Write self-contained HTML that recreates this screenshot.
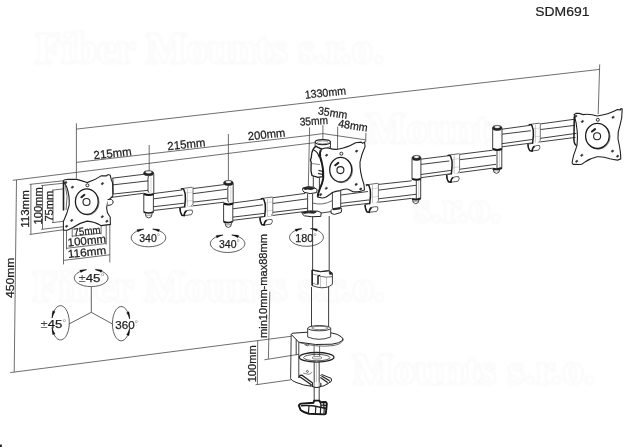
<!DOCTYPE html>
<html><head><meta charset="utf-8"><title>SDM691</title>
<style>
html,body{margin:0;padding:0;background:#fff;}
body{width:626px;height:447px;overflow:hidden;font-family:"Liberation Sans",sans-serif;}
svg{display:block;font-family:"Liberation Sans",sans-serif;}
</style></head><body>
<svg width="626" height="447" viewBox="0 0 626 447">
<rect width="626" height="447" fill="#ffffff"/>
<g filter="url(#wmblur)">
<text x="35" y="62.5" font-size="44" font-family="Liberation Serif" font-weight="bold" fill="#ffffff" stroke="#f1f1f1" stroke-width="1.5" paint-order="stroke" textLength="349" lengthAdjust="spacingAndGlyphs">Fiber Mounts s.r.o.</text>
<text x="366" y="143" font-size="44" font-family="Liberation Serif" font-weight="bold" fill="#ffffff" stroke="#f1f1f1" stroke-width="1.5" paint-order="stroke" textLength="140" lengthAdjust="spacingAndGlyphs">Mounts</text>
<text x="414" y="222" font-size="44" font-family="Liberation Serif" font-weight="bold" fill="#ffffff" stroke="#f1f1f1" stroke-width="1.5" paint-order="stroke">s.r.o.</text>
<text x="32" y="301" font-size="44" font-family="Liberation Serif" font-weight="bold" fill="#ffffff" stroke="#f1f1f1" stroke-width="1.5" paint-order="stroke" textLength="353" lengthAdjust="spacingAndGlyphs">Fiber Mounts s.r.o.</text>
<text x="352" y="384" font-size="44" font-family="Liberation Serif" font-weight="bold" fill="#ffffff" stroke="#f1f1f1" stroke-width="1.5" paint-order="stroke" textLength="243" lengthAdjust="spacingAndGlyphs">Mounts s.r.o.</text>
</g>
<g filter="url(#soft)">
<text x="535.2" y="16.2" font-size="13.6" fill="#1e1e1e" stroke="#1e1e1e" stroke-width="0.2" textLength="54.3" lengthAdjust="spacingAndGlyphs">SDM691</text>
<line x1="76.4" y1="129.1" x2="599.6" y2="69.4" stroke="#4a4a4a" stroke-width="0.8"/>
<line x1="76.4" y1="123.3" x2="76.4" y2="178.5" stroke="#4a4a4a" stroke-width="0.8"/>
<line x1="599.7" y1="64.4" x2="598.2" y2="114.2" stroke="#4a4a4a" stroke-width="0.8"/>
<line x1="76.4" y1="162.4" x2="309.3" y2="135.4" stroke="#4a4a4a" stroke-width="0.8"/>
<line x1="149.2" y1="145.0" x2="149.2" y2="172.0" stroke="#4a4a4a" stroke-width="0.8"/>
<line x1="228.4" y1="134.0" x2="228.4" y2="180.0" stroke="#4a4a4a" stroke-width="0.8"/>
<line x1="12.8" y1="180.3" x2="314.3" y2="142.7" stroke="#4a4a4a" stroke-width="0.8"/>
<line x1="16.5" y1="180.0" x2="14.2" y2="372.2" stroke="#4a4a4a" stroke-width="0.8"/>
<line x1="10.2" y1="372.6" x2="291.0" y2="336.3" stroke="#4a4a4a" stroke-width="0.8"/>
<line x1="30.9" y1="184.2" x2="30.9" y2="234.3" stroke="#4a4a4a" stroke-width="0.8"/>
<line x1="42.5" y1="185.4" x2="42.5" y2="229.3" stroke="#4a4a4a" stroke-width="0.8"/>
<line x1="53.0" y1="190.0" x2="53.0" y2="222.6" stroke="#4a4a4a" stroke-width="0.8"/>
<line x1="29.6" y1="184.4" x2="64.0" y2="180.7" stroke="#4a4a4a" stroke-width="0.8"/>
<line x1="41.2" y1="185.6" x2="64.0" y2="183.2" stroke="#4a4a4a" stroke-width="0.8"/>
<line x1="52.0" y1="190.2" x2="64.0" y2="188.8" stroke="#4a4a4a" stroke-width="0.8"/>
<line x1="29.6" y1="234.5" x2="66.5" y2="229.3" stroke="#4a4a4a" stroke-width="0.8"/>
<line x1="41.2" y1="229.4" x2="64.0" y2="226.6" stroke="#4a4a4a" stroke-width="0.8"/>
<line x1="52.0" y1="222.7" x2="72.2" y2="220.2" stroke="#4a4a4a" stroke-width="0.8"/>
<line x1="63.5" y1="230.4" x2="63.5" y2="264.4" stroke="#4a4a4a" stroke-width="0.8"/>
<line x1="66.5" y1="226.6" x2="66.5" y2="249.5" stroke="#4a4a4a" stroke-width="0.8"/>
<line x1="72.2" y1="220.0" x2="72.2" y2="237.2" stroke="#4a4a4a" stroke-width="0.8"/>
<line x1="101.1" y1="216.6" x2="101.1" y2="234.3" stroke="#4a4a4a" stroke-width="0.8"/>
<line x1="106.2" y1="220.4" x2="106.2" y2="244.5" stroke="#4a4a4a" stroke-width="0.8"/>
<line x1="109.8" y1="224.3" x2="109.8" y2="262.5" stroke="#4a4a4a" stroke-width="0.8"/>
<line x1="72.2" y1="236.2" x2="101.1" y2="233.2" stroke="#4a4a4a" stroke-width="0.8"/>
<line x1="66.5" y1="248.3" x2="106.2" y2="243.5" stroke="#4a4a4a" stroke-width="0.8"/>
<line x1="63.5" y1="260.4" x2="109.8" y2="254.8" stroke="#4a4a4a" stroke-width="0.8"/>
<line x1="309.6" y1="127.4" x2="308.3" y2="188.0" stroke="#4a4a4a" stroke-width="0.8"/>
<line x1="322.9" y1="125.1" x2="322.9" y2="139.5" stroke="#4a4a4a" stroke-width="0.8"/>
<line x1="337.7" y1="126.6" x2="337.5" y2="149.0" stroke="#4a4a4a" stroke-width="0.8"/>
<line x1="365.9" y1="132.9" x2="365.7" y2="142.3" stroke="#4a4a4a" stroke-width="0.8"/>
<line x1="309.3" y1="135.4" x2="322.9" y2="133.6" stroke="#4a4a4a" stroke-width="0.8"/>
<line x1="322.9" y1="133.6" x2="365.9" y2="139.9" stroke="#4a4a4a" stroke-width="0.8"/>
<line x1="269.8" y1="291.6" x2="268.4" y2="358.8" stroke="#4a4a4a" stroke-width="0.8"/>
<line x1="264.3" y1="359.8" x2="298.8" y2="354.3" stroke="#4a4a4a" stroke-width="0.8"/>
<line x1="257.7" y1="340.7" x2="257.4" y2="384.5" stroke="#4a4a4a" stroke-width="0.8"/>
<line x1="255.5" y1="384.8" x2="291.0" y2="379.8" stroke="#4a4a4a" stroke-width="0.8"/>
<text x="325.4" y="92.6" font-size="11.3" fill="#1e1e1e" stroke="#1e1e1e" stroke-width="0.25" font-weight="normal" text-anchor="middle" dominant-baseline="central" transform="rotate(-6 325.4 92.6)" textLength="41.5" lengthAdjust="spacingAndGlyphs">1330mm</text>
<text x="112.5" y="152.8" font-size="11.6" fill="#1e1e1e" stroke="#1e1e1e" stroke-width="0.25" font-weight="normal" text-anchor="middle" dominant-baseline="central" transform="rotate(-6 112.5 152.8)" textLength="38.0" lengthAdjust="spacingAndGlyphs">215mm</text>
<text x="186.3" y="143.7" font-size="11.6" fill="#1e1e1e" stroke="#1e1e1e" stroke-width="0.25" font-weight="normal" text-anchor="middle" dominant-baseline="central" transform="rotate(-6 186.3 143.7)" textLength="38.0" lengthAdjust="spacingAndGlyphs">215mm</text>
<text x="266.5" y="133.9" font-size="11.6" fill="#1e1e1e" stroke="#1e1e1e" stroke-width="0.25" font-weight="normal" text-anchor="middle" dominant-baseline="central" transform="rotate(-6 266.5 133.9)" textLength="37.5" lengthAdjust="spacingAndGlyphs">200mm</text>
<text x="313.8" y="120.9" font-size="11.3" fill="#1e1e1e" stroke="#1e1e1e" stroke-width="0.25" font-weight="normal" text-anchor="middle" dominant-baseline="central" transform="rotate(-4 313.8 120.9)" textLength="28.4" lengthAdjust="spacingAndGlyphs">35mm</text>
<text x="332.7" y="112.7" font-size="11.3" fill="#1e1e1e" stroke="#1e1e1e" stroke-width="0.25" font-weight="normal" text-anchor="middle" dominant-baseline="central" transform="rotate(9 332.7 112.7)" textLength="29.5" lengthAdjust="spacingAndGlyphs">35mm</text>
<text x="353.0" y="125.4" font-size="11.3" fill="#1e1e1e" stroke="#1e1e1e" stroke-width="0.25" font-weight="normal" text-anchor="middle" dominant-baseline="central" transform="rotate(9 353.0 125.4)" textLength="29.8" lengthAdjust="spacingAndGlyphs">48mm</text>
<text x="9.7" y="277.8" font-size="11.8" fill="#1e1e1e" stroke="#1e1e1e" stroke-width="0.25" font-weight="normal" text-anchor="middle" dominant-baseline="central" transform="rotate(-90 9.7 277.8)" textLength="40.5" lengthAdjust="spacingAndGlyphs">450mm</text>
<text x="24.9" y="209.0" font-size="11.4" fill="#1e1e1e" stroke="#1e1e1e" stroke-width="0.25" font-weight="normal" text-anchor="middle" dominant-baseline="central" transform="rotate(-90 24.9 209.0)" textLength="37.6" lengthAdjust="spacingAndGlyphs">113mm</text>
<text x="37.8" y="205.9" font-size="11.4" fill="#1e1e1e" stroke="#1e1e1e" stroke-width="0.25" font-weight="normal" text-anchor="middle" dominant-baseline="central" transform="rotate(-90 37.8 205.9)" textLength="37.2" lengthAdjust="spacingAndGlyphs">100mm</text>
<text x="48.6" y="206.1" font-size="11.4" fill="#1e1e1e" stroke="#1e1e1e" stroke-width="0.25" font-weight="normal" text-anchor="middle" dominant-baseline="central" transform="rotate(-90 48.6 206.1)" textLength="31.0" lengthAdjust="spacingAndGlyphs">75mm</text>
<text x="87.0" y="230.8" font-size="11" fill="#1e1e1e" stroke="#1e1e1e" stroke-width="0.25" font-weight="normal" text-anchor="middle" dominant-baseline="central" transform="rotate(-6 87.0 230.8)" textLength="27.0" lengthAdjust="spacingAndGlyphs">75mm</text>
<text x="86.8" y="240.5" font-size="11.3" fill="#1e1e1e" stroke="#1e1e1e" stroke-width="0.25" font-weight="normal" text-anchor="middle" dominant-baseline="central" transform="rotate(-6 86.8 240.5)" textLength="38.5" lengthAdjust="spacingAndGlyphs">100mm</text>
<text x="87.0" y="252.0" font-size="11.3" fill="#1e1e1e" stroke="#1e1e1e" stroke-width="0.25" font-weight="normal" text-anchor="middle" dominant-baseline="central" transform="rotate(-6 87.0 252.0)" textLength="38.5" lengthAdjust="spacingAndGlyphs">116mm</text>
<text x="263.2" y="286.0" font-size="10.7" fill="#1e1e1e" stroke="#1e1e1e" stroke-width="0.25" font-weight="normal" text-anchor="middle" dominant-baseline="central" transform="rotate(-90 263.2 286.0)" textLength="104.0" lengthAdjust="spacingAndGlyphs">min10mm-max88mm</text>
<text x="251.6" y="363.8" font-size="10.8" fill="#1e1e1e" stroke="#1e1e1e" stroke-width="0.25" font-weight="normal" text-anchor="middle" dominant-baseline="central" transform="rotate(-90 251.6 363.8)" textLength="37.0" lengthAdjust="spacingAndGlyphs">100mm</text>
<path d="M95.29 269.66 A16.90 8.60 0 1 1 86.54 269.73" stroke="#3a3a3a" stroke-width="0.8" fill="none" />
<path d="M79.85 270.26 L80.91 270.07 L81.99 269.91 L83.10 269.80 L84.23 269.74 L85.38 269.71 L86.54 269.73 L86.54 269.73 L85.46 270.12 L84.42 270.55 L83.43 271.01 L82.50 271.50 L81.63 272.02 L80.83 272.56Z" stroke="#111" stroke-width="0.3" fill="#111" />
<path d="M102.07 270.06 L100.99 269.89 L99.88 269.75 L98.76 269.66 L97.61 269.62 L96.46 269.62 L95.29 269.66 L95.29 269.66 L96.39 270.03 L97.45 270.43 L98.46 270.88 L99.42 271.35 L100.31 271.86 L101.14 272.38Z" stroke="#111" stroke-width="0.3" fill="#111" />
<text x="91.6" y="278.4" font-size="11.4" fill="#1e1e1e" stroke="#1e1e1e" stroke-width="0.25" font-weight="normal" text-anchor="middle" dominant-baseline="central" transform="rotate(0 91.6 278.4)" textLength="26.2" lengthAdjust="spacingAndGlyphs"><tspan fill="#444" stroke="none">±</tspan>45<tspan fill="#8a8a8a" stroke="none" font-size="9" dy="-1">°</tspan></text>
<path d="M152.69 229.07 A17.30 9.00 0 1 1 143.73 229.15" stroke="#3a3a3a" stroke-width="0.8" fill="none" />
<path d="M136.88 229.76 L137.96 229.54 L139.07 229.38 L140.21 229.25 L141.37 229.17 L142.54 229.14 L143.73 229.15 L143.73 229.15 L142.62 229.55 L141.56 229.98 L140.54 230.46 L139.59 230.96 L138.70 231.49 L137.88 232.05Z" stroke="#111" stroke-width="0.3" fill="#111" />
<path d="M159.62 229.55 L158.52 229.36 L157.39 229.21 L156.24 229.11 L155.07 229.05 L153.88 229.04 L152.69 229.07 L152.69 229.07 L153.81 229.45 L154.89 229.86 L155.93 230.32 L156.91 230.80 L157.83 231.32 L158.68 231.87Z" stroke="#111" stroke-width="0.3" fill="#111" />
<text x="149.7" y="238.2" font-size="11.4" fill="#1e1e1e" stroke="#1e1e1e" stroke-width="0.25" font-weight="normal" text-anchor="middle" dominant-baseline="central" transform="rotate(0 149.7 238.2)" textLength="20.8" lengthAdjust="spacingAndGlyphs">340<tspan fill="#8a8a8a" stroke="none" font-size="9" dy="-1">°</tspan></text>
<path d="M231.79 234.96 A17.30 8.90 0 1 1 222.83 235.04" stroke="#3a3a3a" stroke-width="0.8" fill="none" />
<path d="M215.98 235.63 L217.07 235.42 L218.18 235.26 L219.31 235.14 L220.47 235.06 L221.64 235.03 L222.83 235.04 L222.83 235.04 L221.72 235.44 L220.66 235.88 L219.64 236.34 L218.69 236.85 L217.80 237.38 L216.98 237.93Z" stroke="#111" stroke-width="0.3" fill="#111" />
<path d="M238.72 235.43 L237.62 235.24 L236.49 235.09 L235.34 234.99 L234.17 234.94 L232.98 234.93 L231.79 234.96 L231.79 234.96 L232.91 235.34 L234.00 235.76 L235.03 236.21 L236.01 236.69 L236.93 237.21 L237.78 237.75Z" stroke="#111" stroke-width="0.3" fill="#111" />
<text x="229.4" y="244.1" font-size="11.4" fill="#1e1e1e" stroke="#1e1e1e" stroke-width="0.25" font-weight="normal" text-anchor="middle" dominant-baseline="central" transform="rotate(0 229.4 244.1)" textLength="20.8" lengthAdjust="spacingAndGlyphs">340<tspan fill="#8a8a8a" stroke="none" font-size="9" dy="-1">°</tspan></text>
<path d="M310.61 228.57 A17.00 9.00 0 1 1 301.81 228.65" stroke="#3a3a3a" stroke-width="0.8" fill="none" />
<path d="M295.07 229.26 L296.13 229.05 L297.23 228.88 L298.35 228.75 L299.49 228.67 L300.65 228.64 L301.81 228.65 L301.81 228.65 L300.73 229.05 L299.68 229.48 L298.69 229.96 L297.75 230.46 L296.88 230.99 L296.08 231.55Z" stroke="#111" stroke-width="0.3" fill="#111" />
<path d="M317.44 229.05 L316.36 228.86 L315.24 228.71 L314.11 228.61 L312.96 228.55 L311.79 228.54 L310.61 228.57 L310.61 228.57 L311.72 228.95 L312.78 229.36 L313.80 229.82 L314.76 230.30 L315.66 230.82 L316.49 231.36Z" stroke="#111" stroke-width="0.3" fill="#111" />
<text x="306.2" y="238.0" font-size="10.6" fill="#1e1e1e" stroke="#1e1e1e" stroke-width="0.25" font-weight="normal" text-anchor="middle" dominant-baseline="central" transform="rotate(0 306.2 238.0)" textLength="21.7" lengthAdjust="spacingAndGlyphs">180<tspan fill="#8a8a8a" stroke="none" font-size="9" dy="-1">°</tspan></text>
<path d="M52.04 318.06 A8.80 17.20 0 1 1 52.04 327.54" stroke="#3a3a3a" stroke-width="0.8" fill="none" />
<path d="M52.83 334.83 L52.57 333.69 L52.36 332.52 L52.20 331.31 L52.10 330.07 L52.04 328.82 L52.04 327.54 L52.04 327.54 L52.45 328.74 L52.91 329.88 L53.40 330.97 L53.94 331.99 L54.50 332.93 L55.10 333.79Z" stroke="#111" stroke-width="0.3" fill="#111" />
<path d="M52.83 310.77 L52.57 311.91 L52.36 313.08 L52.20 314.29 L52.10 315.53 L52.04 316.78 L52.04 318.06 L52.04 318.06 L52.45 316.86 L52.91 315.72 L53.40 314.63 L53.94 313.61 L54.50 312.67 L55.10 311.81Z" stroke="#111" stroke-width="0.3" fill="#111" />
<text x="53.5" y="323.6" font-size="11.4" fill="#1e1e1e" stroke="#1e1e1e" stroke-width="0.25" font-weight="normal" text-anchor="middle" dominant-baseline="central" transform="rotate(0 53.5 323.6)" textLength="26.0" lengthAdjust="spacingAndGlyphs"><tspan fill="#444" stroke="none">±</tspan>45<tspan fill="#8a8a8a" stroke="none" font-size="9" dy="-1">°</tspan></text>
<path d="M129.66 328.44 A8.80 17.20 0 1 1 129.66 318.96" stroke="#3a3a3a" stroke-width="0.8" fill="none" />
<path d="M128.87 311.67 L129.13 312.81 L129.34 313.98 L129.50 315.19 L129.60 316.43 L129.66 317.68 L129.66 318.96 L129.66 318.96 L129.25 317.76 L128.79 316.62 L128.30 315.53 L127.76 314.51 L127.20 313.57 L126.60 312.71Z" stroke="#111" stroke-width="0.3" fill="#111" />
<path d="M128.87 335.73 L129.13 334.59 L129.34 333.42 L129.50 332.21 L129.60 330.97 L129.66 329.72 L129.66 328.44 L129.66 328.44 L129.25 329.64 L128.79 330.78 L128.30 331.87 L127.76 332.89 L127.20 333.83 L126.60 334.69Z" stroke="#111" stroke-width="0.3" fill="#111" />
<text x="126.8" y="324.6" font-size="11.4" fill="#1e1e1e" stroke="#1e1e1e" stroke-width="0.25" font-weight="normal" text-anchor="middle" dominant-baseline="central" transform="rotate(0 126.8 324.6)" textLength="23.0" lengthAdjust="spacingAndGlyphs">360<tspan fill="#8a8a8a" stroke="none" font-size="9" dy="-1">°</tspan></text>
<line x1="91.3" y1="286.8" x2="91.3" y2="312.3" stroke="#3a3a3a" stroke-width="0.8"/>
<line x1="91.3" y1="312.3" x2="69.3" y2="323.8" stroke="#3a3a3a" stroke-width="0.8"/>
<line x1="91.3" y1="312.3" x2="112.6" y2="324.1" stroke="#3a3a3a" stroke-width="0.8"/>
<line x1="112.1" y1="178.2" x2="144.7" y2="174.2" stroke="#2a2a2a" stroke-width="0.9"/>
<line x1="112.8" y1="184.9" x2="148.6" y2="180.8" stroke="#2a2a2a" stroke-width="0.9"/>
<line x1="113.4" y1="194.0" x2="149.2" y2="190.2" stroke="#2a2a2a" stroke-width="0.9"/>
<line x1="105.0" y1="198.2" x2="144.1" y2="193.2" stroke="#2a2a2a" stroke-width="0.9"/>
<line x1="112.9" y1="178.2" x2="113.3" y2="194.0" stroke="#2a2a2a" stroke-width="0.9"/>
<line x1="153.2" y1="193.6" x2="224.1" y2="184.6" stroke="#2a2a2a" stroke-width="0.9"/>
<line x1="153.2" y1="198.9" x2="227.3" y2="189.2" stroke="#2a2a2a" stroke-width="0.9"/>
<line x1="153.2" y1="206.8" x2="227.3" y2="198.1" stroke="#2a2a2a" stroke-width="0.9"/>
<line x1="153.2" y1="210.5" x2="224.1" y2="202.2" stroke="#2a2a2a" stroke-width="0.9"/>
<line x1="233.0" y1="203.0" x2="305.3" y2="193.4" stroke="#2a2a2a" stroke-width="0.9"/>
<line x1="233.0" y1="208.8" x2="307.6" y2="198.8" stroke="#2a2a2a" stroke-width="0.9"/>
<line x1="233.0" y1="217.1" x2="307.6" y2="208.2" stroke="#2a2a2a" stroke-width="0.9"/>
<line x1="233.0" y1="220.3" x2="302.5" y2="211.8" stroke="#2a2a2a" stroke-width="0.9"/>
<line x1="365.8" y1="185.8" x2="411.7" y2="180.8" stroke="#2a2a2a" stroke-width="0.9"/>
<line x1="340.9" y1="195.0" x2="416.0" y2="185.3" stroke="#2a2a2a" stroke-width="0.9"/>
<line x1="340.9" y1="203.3" x2="416.0" y2="194.3" stroke="#2a2a2a" stroke-width="0.9"/>
<line x1="340.9" y1="206.5" x2="411.7" y2="198.4" stroke="#2a2a2a" stroke-width="0.9"/>
<line x1="420.9" y1="159.2" x2="492.7" y2="150.2" stroke="#2a2a2a" stroke-width="0.9"/>
<line x1="420.9" y1="164.4" x2="496.0" y2="155.3" stroke="#2a2a2a" stroke-width="0.9"/>
<line x1="420.9" y1="174.5" x2="496.0" y2="164.3" stroke="#2a2a2a" stroke-width="0.9"/>
<line x1="420.9" y1="177.7" x2="492.7" y2="168.2" stroke="#2a2a2a" stroke-width="0.9"/>
<line x1="502.0" y1="129.2" x2="574.0" y2="119.3" stroke="#2a2a2a" stroke-width="0.9"/>
<line x1="502.0" y1="134.2" x2="574.5" y2="125.4" stroke="#2a2a2a" stroke-width="0.9"/>
<line x1="502.0" y1="143.7" x2="576.5" y2="133.3" stroke="#2a2a2a" stroke-width="0.9"/>
<line x1="502.0" y1="146.8" x2="575.5" y2="137.4" stroke="#2a2a2a" stroke-width="0.9"/>
<path d="M148.0 173.2 L153.8 173.2 L153.8 194.0 L148.0 194.0Z" stroke="none" stroke-width="0" fill="#fff" />
<path d="M143.8 194.0 L153.5 194.0 L153.5 212.4 L143.8 212.4Z" stroke="none" stroke-width="0" fill="#fff" />
<line x1="153.8" y1="173.7" x2="153.8" y2="194.0" stroke="#2a2a2a" stroke-width="0.9"/>
<path d="M149.2 175.8 Q147.8 176.4 148.0 178.2 L148.0 190.6 Q148.0 192.4 149.4 192.8" stroke="#2a2a2a" stroke-width="0.9" fill="none" />
<line x1="151.0" y1="176.8" x2="151.0" y2="192.8" stroke="#b0b0b0" stroke-width="0.5"/>
<ellipse cx="148.6" cy="173.2" rx="5.0" ry="2.5" stroke="#1a1a1a" stroke-width="0.6" fill="#222"/>
<ellipse cx="148.6" cy="172.2" rx="3.0" ry="1.0" stroke="#ddd" stroke-width="0.4" fill="#fff"/>
<path d="M143.8 194.0 Q148.6 195.8 153.8 194.0" stroke="#151515" stroke-width="2.0" fill="none" />
<line x1="143.8" y1="194.0" x2="143.8" y2="212.4" stroke="#2a2a2a" stroke-width="0.9"/>
<line x1="153.4" y1="194.0" x2="153.4" y2="212.4" stroke="#2a2a2a" stroke-width="0.9"/>
<path d="M145.2 213.2 L146.1 216.8 Q148.7 219.0 151.3 216.8 L152.2 213.2" stroke="#333" stroke-width="0.9" fill="#fff" />
<line x1="145.6" y1="215.2" x2="151.8" y2="215.2" stroke="#666" stroke-width="0.7"/>
<path d="M143.8 212.0 Q148.6 214.0 153.4 212.0" stroke="#1c1c1c" stroke-width="1.7" fill="none" />
<path d="M227.8 183.0 L233.2 183.0 L233.2 203.5 L227.8 203.5Z" stroke="none" stroke-width="0" fill="#fff" />
<path d="M223.6 203.5 L232.9 203.5 L232.9 222.0 L223.6 222.0Z" stroke="none" stroke-width="0" fill="#fff" />
<line x1="233.2" y1="183.5" x2="233.2" y2="203.5" stroke="#2a2a2a" stroke-width="0.9"/>
<path d="M229.0 185.6 Q227.6 186.2 227.8 188.0 L227.8 200.1 Q227.8 201.9 229.2 202.3" stroke="#2a2a2a" stroke-width="0.9" fill="none" />
<line x1="230.8" y1="186.6" x2="230.8" y2="202.3" stroke="#b0b0b0" stroke-width="0.5"/>
<ellipse cx="228.4" cy="183.0" rx="4.8" ry="2.5" stroke="#1a1a1a" stroke-width="0.6" fill="#222"/>
<ellipse cx="228.4" cy="182.0" rx="2.8" ry="1.0" stroke="#ddd" stroke-width="0.4" fill="#fff"/>
<path d="M223.6 203.5 Q228.4 205.3 233.2 203.5" stroke="#151515" stroke-width="2.0" fill="none" />
<line x1="223.6" y1="203.5" x2="223.6" y2="222.0" stroke="#2a2a2a" stroke-width="0.9"/>
<line x1="232.8" y1="203.5" x2="232.8" y2="222.0" stroke="#2a2a2a" stroke-width="0.9"/>
<path d="M225.0 222.8 L225.9 226.4 Q228.3 228.6 230.7 226.4 L231.6 222.8" stroke="#333" stroke-width="0.9" fill="#fff" />
<line x1="225.4" y1="224.8" x2="231.2" y2="224.8" stroke="#666" stroke-width="0.7"/>
<path d="M223.6 221.6 Q228.4 223.6 232.8 221.6" stroke="#1c1c1c" stroke-width="1.7" fill="none" />
<path d="M412.0 157.9 L420.9 157.9 L420.9 178.9 L412.0 178.9Z" stroke="none" stroke-width="0" fill="#fff" />
<line x1="412.0" y1="158.4" x2="412.0" y2="178.9" stroke="#2a2a2a" stroke-width="0.9"/>
<line x1="420.9" y1="158.4" x2="420.9" y2="178.9" stroke="#2a2a2a" stroke-width="0.9"/>
<ellipse cx="416.5" cy="157.9" rx="4.4" ry="2.5" stroke="#1a1a1a" stroke-width="0.6" fill="#222"/>
<ellipse cx="416.5" cy="156.9" rx="2.4" ry="1.0" stroke="#ddd" stroke-width="0.4" fill="#fff"/>
<path d="M412.0 178.9 Q416.5 180.7 420.9 178.9" stroke="#151515" stroke-width="2.0" fill="none" />
<line x1="416.3" y1="179.9" x2="416.3" y2="198.8" stroke="#2a2a2a" stroke-width="0.9"/>
<line x1="420.7" y1="178.9" x2="420.7" y2="198.8" stroke="#2a2a2a" stroke-width="0.9"/>
<line x1="418.7" y1="180.9" x2="418.7" y2="197.8" stroke="#b0b0b0" stroke-width="0.5"/>
<path d="M412.4 199.2 L413.3 202.6 Q415.8 204.8 418.2 202.6 L419.1 199.2" stroke="#333" stroke-width="0.9" fill="#fff" />
<line x1="412.8" y1="201.2" x2="418.7" y2="201.2" stroke="#666" stroke-width="0.7"/>
<path d="M412.0 198.9 Q416.5 200.2 420.7 198.3" stroke="#1a1a1a" stroke-width="1.9" fill="none" />
<path d="M492.7 127.9 L502.0 127.9 L502.0 149.0 L492.7 149.0Z" stroke="none" stroke-width="0" fill="#fff" />
<line x1="492.7" y1="128.4" x2="492.7" y2="149.0" stroke="#2a2a2a" stroke-width="0.9"/>
<line x1="502.0" y1="128.4" x2="502.0" y2="149.0" stroke="#2a2a2a" stroke-width="0.9"/>
<ellipse cx="497.2" cy="127.9" rx="4.7" ry="2.5" stroke="#1a1a1a" stroke-width="0.6" fill="#222"/>
<ellipse cx="497.2" cy="126.9" rx="2.7" ry="1.0" stroke="#ddd" stroke-width="0.4" fill="#fff"/>
<path d="M492.7 149.0 Q497.2 150.8 502.0 149.0" stroke="#151515" stroke-width="2.0" fill="none" />
<line x1="497.0" y1="150.0" x2="497.0" y2="168.5" stroke="#2a2a2a" stroke-width="0.9"/>
<line x1="501.8" y1="149.0" x2="501.8" y2="168.5" stroke="#2a2a2a" stroke-width="0.9"/>
<line x1="499.4" y1="151.0" x2="499.4" y2="167.5" stroke="#b0b0b0" stroke-width="0.5"/>
<path d="M493.1 168.9 L494.0 172.3 Q496.4 174.5 498.9 172.3 L499.8 168.9" stroke="#333" stroke-width="0.9" fill="#fff" />
<line x1="493.5" y1="170.9" x2="499.4" y2="170.9" stroke="#666" stroke-width="0.7"/>
<path d="M492.7 168.6 Q497.2 169.9 501.8 168.0" stroke="#1a1a1a" stroke-width="1.9" fill="none" />
<path d="M181.8 188.7 L193.0 187.1 L193.0 205.9 L184.8 207.6 Z" stroke="none" stroke-width="0" fill="#fff" />
<line x1="185.4" y1="193.0" x2="193.0" y2="192.0" stroke="#b5b5b5" stroke-width="0.5"/>
<line x1="185.4" y1="201.3" x2="193.0" y2="200.3" stroke="#b5b5b5" stroke-width="0.5"/>
<line x1="183.0" y1="188.4" x2="192.4" y2="187.2" stroke="#444" stroke-width="0.8"/>
<line x1="187.4" y1="189.1" x2="187.4" y2="206.4" stroke="#9a9a9a" stroke-width="0.6"/>
<path d="M193.0 187.1 L193.0 203.8 Q192.8 205.4 191.2 205.7" stroke="#555" stroke-width="0.8" fill="none" />
<path d="M184.6 207.0 L179.9 207.9 Q180.0 212.0 181.8 215.2 L184.1 215.6 Q184.4 211.8 186.6 210.8 Q189.3 209.7 192.1 210.1 Q193.5 212.2 191.3 214.7 L184.1 215.6" stroke="#333" stroke-width="0.8" fill="#fff" />
<path d="M179.9 207.9 Q180.0 212.0 181.8 215.2 L184.1 215.6 Q184.4 211.8 186.6 210.8" stroke="#1a1a1a" stroke-width="1.5" fill="none" />
<path d="M180.8 189.1 Q182.6 188.0 183.9 189.7 Q185.8 193.7 185.4 199.2 L184.6 207.4" stroke="#1a1a1a" stroke-width="1.5" fill="none" />
<path d="M261.8 198.6 L272.8 196.9 L272.8 215.4 L264.8 217.2 Z" stroke="none" stroke-width="0" fill="#fff" />
<line x1="265.4" y1="202.9" x2="272.8" y2="201.8" stroke="#b5b5b5" stroke-width="0.5"/>
<line x1="265.4" y1="211.2" x2="272.8" y2="210.1" stroke="#b5b5b5" stroke-width="0.5"/>
<line x1="263.0" y1="198.3" x2="272.2" y2="197.0" stroke="#444" stroke-width="0.8"/>
<line x1="267.4" y1="199.0" x2="267.4" y2="216.0" stroke="#9a9a9a" stroke-width="0.6"/>
<path d="M272.8 196.9 L272.8 213.3 Q272.6 214.9 271.0 215.2" stroke="#555" stroke-width="0.8" fill="none" />
<path d="M264.6 216.6 L259.9 217.5 Q260.0 221.6 261.8 224.6 L264.1 225.0 Q264.4 221.2 266.6 220.2 Q269.3 219.1 271.9 219.5 Q273.3 221.6 271.1 224.1 L264.1 225.0" stroke="#333" stroke-width="0.8" fill="#fff" />
<path d="M259.9 217.5 Q260.0 221.6 261.8 224.6 L264.1 225.0 Q264.4 221.2 266.6 220.2" stroke="#1a1a1a" stroke-width="1.5" fill="none" />
<path d="M260.8 199.0 Q262.6 197.9 263.9 199.6 Q265.8 203.6 265.4 209.1 L264.6 217.0" stroke="#1a1a1a" stroke-width="1.5" fill="none" />
<path d="M366.9 184.8 L378.4 183.2 L378.4 202.7 L369.9 204.4 Z" stroke="none" stroke-width="0" fill="#fff" />
<line x1="370.5" y1="189.1" x2="378.4" y2="188.1" stroke="#b5b5b5" stroke-width="0.5"/>
<line x1="370.5" y1="197.4" x2="378.4" y2="196.4" stroke="#b5b5b5" stroke-width="0.5"/>
<line x1="368.1" y1="184.6" x2="377.8" y2="183.3" stroke="#444" stroke-width="0.8"/>
<line x1="372.5" y1="185.2" x2="372.5" y2="203.2" stroke="#9a9a9a" stroke-width="0.6"/>
<path d="M378.4 183.2 L378.4 200.6 Q378.2 202.2 376.6 202.5" stroke="#555" stroke-width="0.8" fill="none" />
<path d="M369.7 203.8 L365.0 204.7 Q365.1 208.8 366.9 211.9 L369.2 212.3 Q369.5 208.5 371.7 207.5 Q374.4 206.4 377.5 206.8 Q378.9 208.9 376.7 211.4 L369.2 212.3" stroke="#333" stroke-width="0.8" fill="#fff" />
<path d="M365.0 204.7 Q365.1 208.8 366.9 211.9 L369.2 212.3 Q369.5 208.5 371.7 207.5" stroke="#1a1a1a" stroke-width="1.5" fill="none" />
<path d="M365.9 185.2 Q367.7 184.1 369.0 185.8 Q370.9 189.8 370.5 195.3 L369.7 204.2" stroke="#1a1a1a" stroke-width="1.5" fill="none" />
<path d="M448.5 155.2 L459.6 153.6 L459.6 172.9 L451.5 174.6 Z" stroke="none" stroke-width="0" fill="#fff" />
<line x1="452.1" y1="159.5" x2="459.6" y2="158.5" stroke="#b5b5b5" stroke-width="0.5"/>
<line x1="452.1" y1="167.8" x2="459.6" y2="166.8" stroke="#b5b5b5" stroke-width="0.5"/>
<line x1="449.7" y1="154.9" x2="459.0" y2="153.7" stroke="#444" stroke-width="0.8"/>
<line x1="454.1" y1="155.6" x2="454.1" y2="173.4" stroke="#9a9a9a" stroke-width="0.6"/>
<path d="M459.6 153.6 L459.6 170.8 Q459.4 172.4 457.8 172.7" stroke="#555" stroke-width="0.8" fill="none" />
<path d="M451.3 174.0 L446.6 174.9 Q446.7 179.0 448.5 181.8 L450.8 182.2 Q451.1 178.4 453.3 177.4 Q456.0 176.3 458.7 176.7 Q460.1 178.8 457.9 181.3 L450.8 182.2" stroke="#333" stroke-width="0.8" fill="#fff" />
<path d="M446.6 174.9 Q446.7 179.0 448.5 181.8 L450.8 182.2 Q451.1 178.4 453.3 177.4" stroke="#1a1a1a" stroke-width="1.5" fill="none" />
<path d="M447.5 155.6 Q449.3 154.5 450.6 156.2 Q452.5 160.2 452.1 165.7 L451.3 174.4" stroke="#1a1a1a" stroke-width="1.5" fill="none" />
<path d="M529.8 124.5 L540.3 123.0 L540.3 142.3 L532.8 143.9 Z" stroke="none" stroke-width="0" fill="#fff" />
<line x1="533.4" y1="128.8" x2="540.3" y2="127.9" stroke="#b5b5b5" stroke-width="0.5"/>
<line x1="533.4" y1="137.1" x2="540.3" y2="136.2" stroke="#b5b5b5" stroke-width="0.5"/>
<line x1="531.0" y1="124.2" x2="539.7" y2="123.1" stroke="#444" stroke-width="0.8"/>
<line x1="535.4" y1="124.9" x2="535.4" y2="142.7" stroke="#9a9a9a" stroke-width="0.6"/>
<path d="M540.3 123.0 L540.3 140.2 Q540.1 141.8 538.5 142.1" stroke="#555" stroke-width="0.8" fill="none" />
<path d="M532.6 143.3 L527.9 144.2 Q528.0 148.3 529.8 150.6 L532.1 151.0 Q532.4 147.2 534.6 146.2 Q537.3 145.1 539.4 145.5 Q540.8 147.6 538.6 150.1 L532.1 151.0" stroke="#333" stroke-width="0.8" fill="#fff" />
<path d="M527.9 144.2 Q528.0 148.3 529.8 150.6 L532.1 151.0 Q532.4 147.2 534.6 146.2" stroke="#1a1a1a" stroke-width="1.5" fill="none" />
<path d="M528.8 124.9 Q530.6 123.8 531.9 125.5 Q533.8 129.5 533.4 135.0 L532.6 143.7" stroke="#1a1a1a" stroke-width="1.5" fill="none" />
<path d="M63.4 181 L64.2 180 L67.9 179.2 L76.8 179.4 Q82 180.6 87 182.6 Q94.7 180.4 101.1 175.9 L106.2 175.9 L108.1 174.5 L110.2 175.2 Q110.8 179 112.6 183 L112.8 196 Q109 199 107.5 203 Q105.8 207.7 107.5 212.8 Q108.8 215.4 110.2 217 L110.4 224.4 L101.1 225.6 Q94.7 221.6 87.1 221.1 Q79.4 222.8 73 227.5 L67.3 230.2 L63.4 230.2 L63.4 221.5 Q67.2 213.5 69.2 205.1 Q69.8 195.5 66.6 186.7 Z" stroke="#222" stroke-width="1.1" fill="#fff" />
<line x1="63.5" y1="181.0" x2="63.5" y2="210.5" stroke="#1a1a1a" stroke-width="1.6"/>
<path d="M65.2 184 Q68.6 196 66 210 " stroke="#444" stroke-width="0.8" fill="none" />
<ellipse cx="87.7" cy="202.3" rx="11.4" ry="12.7" stroke="#555" stroke-width="0.7" fill="#fff"/>
<ellipse cx="86.8" cy="201.6" rx="11.4" ry="12.7" stroke="#1c1c1c" stroke-width="1.3" fill="#fff"/>
<circle cx="86.5" cy="202.0" r="3.5" fill="#fff" stroke="#222" stroke-width="1.1"/>
<path d="M81.4 197.2 L84.4 194.8" stroke="#222" stroke-width="2.1" fill="none" stroke-linecap="round"/>
<ellipse cx="72.4" cy="187.2" rx="1.3" ry="0.9500000000000001" fill="#333" stroke="#2a2a2a" stroke-width="0.4" transform="rotate(-35 72.4 187.2)"/>
<ellipse cx="102.4" cy="183.6" rx="1.3" ry="0.9500000000000001" fill="#333" stroke="#2a2a2a" stroke-width="0.4" transform="rotate(-35 102.4 183.6)"/>
<ellipse cx="102.3" cy="216.7" rx="1.3" ry="0.9500000000000001" fill="#333" stroke="#2a2a2a" stroke-width="0.4" transform="rotate(-35 102.3 216.7)"/>
<ellipse cx="71.7" cy="220.4" rx="1.3" ry="0.9500000000000001" fill="#333" stroke="#2a2a2a" stroke-width="0.4" transform="rotate(-35 71.7 220.4)"/>
<ellipse cx="66.6" cy="226.3" rx="1.3" ry="0.9500000000000001" fill="#333" stroke="#2a2a2a" stroke-width="0.4" transform="rotate(-35 66.6 226.3)"/>
<ellipse cx="106.9" cy="221.2" rx="1.3" ry="0.9500000000000001" fill="#333" stroke="#2a2a2a" stroke-width="0.4" transform="rotate(-35 106.9 221.2)"/>
<ellipse cx="65.8" cy="182.6" rx="1.3" ry="0.9500000000000001" fill="#333" stroke="#2a2a2a" stroke-width="0.4" transform="rotate(-35 65.8 182.6)"/>
<circle cx="87.4" cy="185.3" r="1.5" fill="#fff" stroke="#222" stroke-width="0.95"/>
<path d="M107.5 199.6 Q112.8 198.4 113.2 202 Q113 205.2 107.6 205.4" stroke="#222" stroke-width="1.0" fill="#fff" />
<path d="M574.1 114.7 L576 113.4 L579.2 113.4 L583 114.6 Q590 113.6 597.1 116 Q608 114.8 617.5 109.6 L620.4 109.8 L620.9 108.6 L622.2 109 Q622.4 118 619.8 126 Q617.4 132 618 139 Q619.6 146 620.4 152 L620.8 158.8 L617.8 160.1 Q613 159.6 609.9 158.7 Q603 156.4 597.1 156.8 Q589.8 158.4 584 162.6 Q582 164.6 580.5 164.5 L573.4 164.4 Q571.8 163.6 572.2 161.8 L573.5 155.6 Q575.6 150.2 577 145.4 Q577.8 138 577.3 132 Q576.4 122 574.1 114.7 Z" stroke="#222" stroke-width="1.1" fill="#fff" />
<path d="M574.3 116.5 L573.9 140 Q574.2 144.5 576.6 145.6" stroke="#1a1a1a" stroke-width="1.5" fill="none" />
<ellipse cx="598.3" cy="136.6" rx="11.8" ry="12.6" stroke="#555" stroke-width="0.7" fill="#fff"/>
<ellipse cx="597.4" cy="135.9" rx="11.8" ry="12.6" stroke="#1c1c1c" stroke-width="1.3" fill="#fff"/>
<circle cx="597.1" cy="136.3" r="3.5" fill="#fff" stroke="#222" stroke-width="1.1"/>
<path d="M592.0 131.5 L595.0 129.1" stroke="#222" stroke-width="2.1" fill="none" stroke-linecap="round"/>
<ellipse cx="582.4" cy="121.5" rx="1.3" ry="0.9500000000000001" fill="#333" stroke="#2a2a2a" stroke-width="0.4" transform="rotate(-35 582.4 121.5)"/>
<ellipse cx="613.1" cy="117.3" rx="1.3" ry="0.9500000000000001" fill="#333" stroke="#2a2a2a" stroke-width="0.4" transform="rotate(-35 613.1 117.3)"/>
<ellipse cx="612.5" cy="151.1" rx="1.3" ry="0.9500000000000001" fill="#333" stroke="#2a2a2a" stroke-width="0.4" transform="rotate(-35 612.5 151.1)"/>
<ellipse cx="617.6" cy="156.2" rx="1.3" ry="0.9500000000000001" fill="#333" stroke="#2a2a2a" stroke-width="0.4" transform="rotate(-35 617.6 156.2)"/>
<ellipse cx="581.8" cy="155.3" rx="1.3" ry="0.9500000000000001" fill="#333" stroke="#2a2a2a" stroke-width="0.4" transform="rotate(-35 581.8 155.3)"/>
<ellipse cx="576.7" cy="161.3" rx="1.3" ry="0.9500000000000001" fill="#333" stroke="#2a2a2a" stroke-width="0.4" transform="rotate(-35 576.7 161.3)"/>
<ellipse cx="575.8" cy="116.2" rx="1.3" ry="0.9500000000000001" fill="#333" stroke="#2a2a2a" stroke-width="0.4" transform="rotate(-35 575.8 116.2)"/>
<circle cx="597.8" cy="119.8" r="1.5" fill="#fff" stroke="#222" stroke-width="0.95"/>
<line x1="312.6" y1="216.0" x2="312.6" y2="270.5" stroke="#2a2a2a" stroke-width="0.9"/>
<line x1="329.2" y1="216.0" x2="329.2" y2="270.5" stroke="#2a2a2a" stroke-width="0.9"/>
<line x1="311.5" y1="287.0" x2="311.5" y2="328.0" stroke="#2a2a2a" stroke-width="0.9"/>
<line x1="328.6" y1="287.0" x2="328.6" y2="328.0" stroke="#2a2a2a" stroke-width="0.9"/>
<line x1="315.1" y1="142.2" x2="315.1" y2="149.0" stroke="#2a2a2a" stroke-width="0.9"/>
<line x1="330.5" y1="142.2" x2="330.5" y2="148.6" stroke="#2a2a2a" stroke-width="0.9"/>
<path d="M315.1 146.5 Q322.8 150.5 330.5 146.5" stroke="#444" stroke-width="0.8" fill="none" />
<ellipse cx="322.8" cy="142.1" rx="7.7" ry="2.5" stroke="#222" stroke-width="1.2" fill="#fff"/>
<ellipse cx="322.8" cy="142.4" rx="5.6" ry="1.5" stroke="#666" stroke-width="0.6" fill="none"/>
<path d="M316 146.2 Q312.6 148.4 311.8 153 L311.2 158 L310.4 160 L311.2 162 L311 171 L312 175.6 L318 177.4 L322.6 176.6 L323 165 L320 156 L321.6 149.4 Z" stroke="#1c1c1c" stroke-width="1.3" fill="#fff" />
<path d="M313.6 150 Q318 152 319.2 157" stroke="#222" stroke-width="1.3" fill="none" />
<path d="M311.6 163.5 L320 164.6" stroke="#555" stroke-width="0.7" fill="none" />
<path d="M318.5 170.4 L322.6 171.4 M318 173.4 L322.4 174.4" stroke="#333" stroke-width="1.1" fill="none" />
<line x1="313.3" y1="176.0" x2="313.3" y2="187.0" stroke="#2a2a2a" stroke-width="0.9"/>
<line x1="319.4" y1="177.4" x2="319.4" y2="190.0" stroke="#2a2a2a" stroke-width="0.9"/>
<path d="M321.5 149.2 Q326 147.4 329 148.2 Q333.5 149.6 337.7 149.3 Q347 147.8 355.6 142.8 L361.3 142.1 L362.6 143.4 L364.5 142.1 Q364.9 144.5 365.1 146.6 Q361.6 154 360 162 Q359.8 167.5 360.7 172.2 Q361.8 178.5 363.9 184.2 L364.5 189.9 L360.7 191.2 Q356.5 192.2 353 191.8 Q350 190 347.9 189.3 Q345 188.4 340 190.6 Q335.5 191 332.4 192.5 Q329.8 194.6 327.3 196.3 Q324.8 198.2 322.2 198 L317.7 197 Q318 192.8 319.6 189.3 Q322.6 183.5 323.5 177.8 Q323.6 171 322.2 164.5 Q320.2 160 319.5 156 Q319.8 152 321.5 149.2 Z" stroke="#222" stroke-width="1.1" fill="#fff" />
<path d="M320.6 150.4 Q319.6 153 320.2 156.5 Q321.6 161 322.2 164.5 Q323.6 171 323.3 177.8 Q322.4 183.5 319.6 189.3 Q318.2 192.6 317.7 196.6" stroke="#1c1c1c" stroke-width="1.9" fill="none" />
<ellipse cx="341.6" cy="170.4" rx="11.0" ry="12.3" stroke="#555" stroke-width="0.7" fill="#fff"/>
<ellipse cx="340.7" cy="169.7" rx="11.0" ry="12.3" stroke="#1c1c1c" stroke-width="1.3" fill="#fff"/>
<circle cx="340.4" cy="170.1" r="3.5" fill="#fff" stroke="#222" stroke-width="1.1"/>
<path d="M335.3 165.3 L338.3 162.9" stroke="#222" stroke-width="2.1" fill="none" stroke-linecap="round"/>
<ellipse cx="356.6" cy="151.1" rx="1.3" ry="0.9500000000000001" fill="#333" stroke="#2a2a2a" stroke-width="0.4" transform="rotate(-35 356.6 151.1)"/>
<ellipse cx="356.2" cy="184.4" rx="1.3" ry="0.9500000000000001" fill="#333" stroke="#2a2a2a" stroke-width="0.4" transform="rotate(-35 356.2 184.4)"/>
<ellipse cx="360.7" cy="189.0" rx="1.3" ry="0.9500000000000001" fill="#333" stroke="#2a2a2a" stroke-width="0.4" transform="rotate(-35 360.7 189.0)"/>
<ellipse cx="326.3" cy="188.3" rx="1.3" ry="0.9500000000000001" fill="#333" stroke="#2a2a2a" stroke-width="0.4" transform="rotate(-35 326.3 188.3)"/>
<ellipse cx="320.6" cy="194.6" rx="1.3" ry="0.9500000000000001" fill="#333" stroke="#2a2a2a" stroke-width="0.4" transform="rotate(-35 320.6 194.6)"/>
<ellipse cx="326.6" cy="155.2" rx="1.3" ry="0.9500000000000001" fill="#333" stroke="#2a2a2a" stroke-width="0.4" transform="rotate(-35 326.6 155.2)"/>
<circle cx="341.4" cy="153.7" r="1.5" fill="#fff" stroke="#222" stroke-width="0.95"/>
<path d="M332.4 192.6 L332.4 208.8 M340.7 190.8 L340.7 209" stroke="#2a2a2a" stroke-width="0.9" fill="none" />
<path d="M331 210.6 L333 208.6 L340.8 207.6 L341.6 209.4 L341.2 212.4 L334.5 214.4 L331.2 213.4 Z" stroke="#222" stroke-width="1.0" fill="#fff" />
<path d="M333 209.4 L340.6 208.4" stroke="#222" stroke-width="1.8" fill="none" />
<path d="M312.6 203 Q322 206 332.4 200.6" stroke="#444" stroke-width="0.8" fill="none" />
<path d="M312.6 193.8 L312.6 211.4" stroke="#2a2a2a" stroke-width="0.9" fill="none" />
<line x1="307.6" y1="193.8" x2="307.6" y2="211.2" stroke="#2a2a2a" stroke-width="0.9"/>
<path d="M302.6 188.2 Q302.2 190.6 304 192.2 Q310 194.8 316.6 192.6 L317.2 189.6 L313.4 187.2 Q307.5 185.6 302.6 188.2 Z" stroke="#222" stroke-width="1.0" fill="#fff" />
<path d="M303.4 188 Q309 186.2 314.6 188.2 L311.6 189.6 Q307 188.6 304.8 189.6 Z" stroke="#222" stroke-width="0.9" fill="#222" />
<path d="M301.8 212.2 Q302 214.6 304.4 215.8 Q311 217.4 320.8 216.4 L321.2 212.6 L318 211.2 Q309 210 301.8 212.2 Z" stroke="#222" stroke-width="1.0" fill="#fff" />
<path d="M302.6 212.4 Q309 210.8 316.4 211.8 L314 213.2 Q307.5 212.4 304 213.4 Z" stroke="#222" stroke-width="0.9" fill="#222" />
<path d="M321.2 213 L331 211.6" stroke="#2a2a2a" stroke-width="0.9" fill="none" />
<path d="M312.2 269.7 L312.2 285.6 Q317 287.5 322 287.8 Q327 287.7 329.2 286.4 L332.4 284.3 L332.4 273.2 L329 270.6 Q320.5 272.8 312.2 269.7 Z" stroke="#2a2a2a" stroke-width="0.9" fill="#fff" />
<line x1="312.2" y1="269.9" x2="312.2" y2="285.6" stroke="#1c1c1c" stroke-width="1.5"/>
<path d="M312.2 270.3 Q320.5 273 328.9 270.8" stroke="#222" stroke-width="1.0" fill="none" />
<path d="M313 274.2 Q316 275 318.2 275.2" stroke="#666" stroke-width="0.7" fill="none" />
<path d="M318 284.6 L318 276.4 Q318.2 275.3 320.2 275.5" stroke="#1c1c1c" stroke-width="1.5" fill="none" />
<path d="M320 276.2 Q326 278 332.4 276.6" stroke="#444" stroke-width="0.8" fill="none" />
<path d="M313 283.2 Q316 284.6 318 284.6" stroke="#666" stroke-width="0.7" fill="none" />
<line x1="326.5" y1="277.8" x2="326.5" y2="286.8" stroke="#999" stroke-width="0.6"/>
<line x1="320.6" y1="276.6" x2="320.6" y2="287.4" stroke="#999" stroke-width="0.6"/>
<path d="M329.2 271.2 L332 272.8 L331.8 274.6 L329.4 274.2 Z" stroke="#222" stroke-width="0.6" fill="#2a2a2a" />
<path d="M307.7 328.2 L307.7 337 Q319 341.6 330.7 337 L330.7 328.2" stroke="#2a2a2a" stroke-width="0.9" fill="#fff" />
<ellipse cx="319.2" cy="328.2" rx="11.5" ry="2.6" stroke="#222" stroke-width="0.9" fill="#fff"/>
<ellipse cx="319.9" cy="328.0" rx="8.3" ry="1.7" stroke="#444" stroke-width="0.7" fill="#fff"/>
<path d="M291.2 334.4 Q291.6 333.4 293 333.2 L307.6 332.2 M330.8 332.8 Q338 333.8 341.6 337 Q343.2 338.6 342.8 340.2 Q340 343.2 332 344.2 Q316 345.8 298.8 342.2 L291.2 334.4" stroke="#222" stroke-width="1.0" fill="none" />
<path d="M342.9 338.4 L342.8 340.4" stroke="#222" stroke-width="0.9" fill="none" />
<path d="M298.8 342.2 L298.8 378 M291.2 334.4 L290.6 378.6 M296.2 339.6 L296.2 355" stroke="#2a2a2a" stroke-width="0.9" fill="none" />
<path d="M298.8 342.4 Q316 347.6 333 345.6 Q341 344.4 342.9 340.4" stroke="#444" stroke-width="0.8" fill="none" />
<path d="M304.6 344.6 L307.4 345.8 L309 344.8" stroke="#333" stroke-width="0.8" fill="none" />
<line x1="314.1" y1="346.0" x2="314.1" y2="356.0" stroke="#444" stroke-width="0.8"/>
<line x1="319.6" y1="346.0" x2="319.6" y2="356.0" stroke="#444" stroke-width="0.8"/>
<ellipse cx="316.6" cy="357.3" rx="17.3" ry="4.8" stroke="#222" stroke-width="1.3" fill="none"/>
<ellipse cx="316.8" cy="357.6" rx="13.2" ry="3.2" stroke="#444" stroke-width="0.9" fill="none"/>
<ellipse cx="317.0" cy="357.8" rx="5.0" ry="1.3" stroke="#555" stroke-width="0.7" fill="none"/>
<line x1="314.2" y1="361.6" x2="314.2" y2="401.0" stroke="#2a2a2a" stroke-width="0.9"/>
<line x1="319.2" y1="361.6" x2="319.2" y2="401.0" stroke="#2a2a2a" stroke-width="0.9"/>
<line x1="316.4" y1="362.0" x2="316.4" y2="382.0" stroke="#888" stroke-width="0.5"/>
<path d="M290.6 378.6 Q292 381 296 382.4 Q304 385.6 310 386 L323 386.2 Q328 384 331.6 381 L331.2 378.4 L322 374.6 L320.4 375.6" stroke="#222" stroke-width="1.0" fill="none" />
<path d="M298.8 377.8 L300 375.4 L302 375.2 L313.6 383.8 M300.2 377 L311.6 385 M321.6 376 L329.6 380.8 M320.4 377.4 L327.6 382.4" stroke="#222" stroke-width="1.25" fill="none" />
<path d="M310.4 384.2 L310.8 386.4 M313.8 383.6 L313.8 386.4 M327 382.6 L327.6 384.2 M329.8 381 L330 382.6" stroke="#333" stroke-width="0.9" fill="none" />
<path d="M303.2 373.2 L309 374.4 L312.2 372.2" stroke="#555" stroke-width="0.7" fill="none" />
<circle cx="307.4" cy="371.4" r="1" fill="#fff" stroke="#333" stroke-width="0.7"/>
<path d="M312.6 382.8 L312.6 386.6 Q316.6 388.4 320.8 386.6 L320.8 382.8" stroke="#222" stroke-width="1.1" fill="#fff" />
<line x1="314.2" y1="383.0" x2="314.2" y2="387.0" stroke="#555" stroke-width="0.7"/>
<line x1="319.2" y1="383.0" x2="319.2" y2="387.0" stroke="#555" stroke-width="0.7"/>
<path d="M298.9 405.6 Q299.4 403.8 301 403.6 L313.4 402.8 L314.2 400.6 L319.4 400.6 L320.2 402.2 L325.8 402 Q326.9 402.6 326.8 404 L326.4 408.4 L325.8 413.6 Q325.4 414.4 324 414.4 L309 413.8 Q303.6 412.6 300.6 410 Z" stroke="#161616" stroke-width="1.9" fill="#fff" />
<path d="M300.8 405.8 Q310 405 318 406.8 L326 408.4" stroke="#1c1c1c" stroke-width="1.6" fill="none" />
<path d="M309 406 L308.4 413.4 M315.8 406.6 L315.4 414 M320.6 407.4 L320.4 414 M324.2 408 L324 414" stroke="#222" stroke-width="1.2" fill="none" />
<path d="M320.6 402.6 L321 407.2 M323.6 402.4 L324 407.8 M320.8 404.8 L326.4 405.4" stroke="#1c1c1c" stroke-width="1.2" fill="none" />
<rect x="0" y="444.5" width="1.8" height="2.5" fill="#222"/>
</g>
<defs><filter id="soft" x="0" y="0" width="100%" height="100%"><feGaussianBlur stdDeviation="0.35"/></filter><filter id="wmblur" x="0" y="0" width="100%" height="100%"><feGaussianBlur stdDeviation="0.9"/></filter></defs>
</svg>
</body></html>
